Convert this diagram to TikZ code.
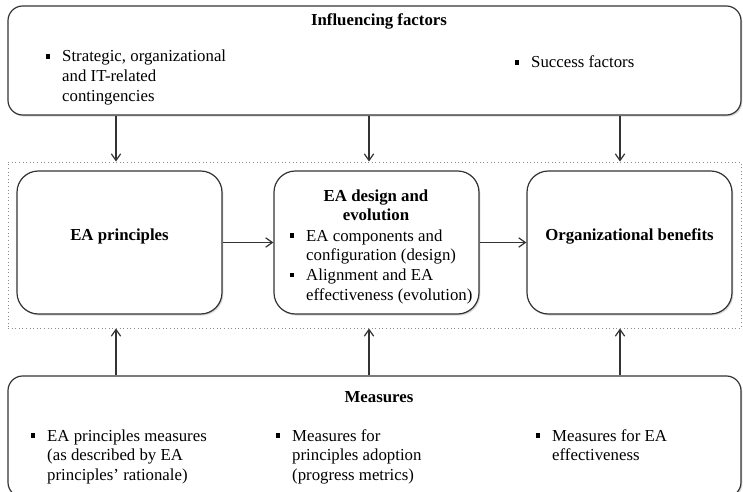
\documentclass[tikz,border=0pt]{standalone}
\usepackage{fontspec}
\setmainfont{Liberation Serif}
\usetikzlibrary{arrows.meta,fit,shadows}
\newcommand{\figfont}{\fontsize{12.6}{14.8}\selectfont}
\newcommand{\sqbul}{\rule[0.2em]{0.25em}{0.25em}}
\newcommand{\blist}[1]{\begin{tabular}[t]{@{}l@{\hspace{0.7em}}l@{}}#1\end{tabular}}
\tikzset{
	box/.style={draw=black!80, line width=0.9pt, rounded corners=11pt, fill=white, inner sep=0pt,
		drop shadow={opacity=0.3, shadow xshift=1pt, shadow yshift=-1.2pt}},
	stage/.style={box, rounded corners=16pt, font=\figfont\bfseries},
	head/.style={anchor=base, inner sep=0pt, font=\figfont\bfseries},
	item/.style={anchor=base west, inner sep=0pt, font=\figfont},
	flow/.style={draw=black!80, line width=0.9pt, -{Straight Barb[length=5pt,width=7pt]}}
}
\begin{document}
\begin{tikzpicture}[x=0.75pt, y=-0.75pt]
	\useasboundingbox (0,0) rectangle (743,492);
	\clip (0,0) rectangle (743,492);
	\node [draw=black!45, dotted, line width=0.7pt, inner sep=0pt, fit={(8,162) (741,328)}] (frame) {};
	\node [box, fit={(8,6) (741,115)}] (infl) {};
	\node [box, fit={(8,376) (741,497)}] (meas) {};
	\node [stage, fit={(17,171) (222,314)}] (princ) {EA principles};
	\node [stage, fit={(274,171) (479,314)}] (design) {};
	\node [stage, fit={(527,171) (732,314)}] (benef) {Organizational benefits};
	\node [head] (infltitle) at (379,26) {Influencing factors};
	\node [item] (contin) at (46,62) {\blist{\sqbul & Strategic, organizational\\ & and IT-related\\ & contingencies}};
	\node [item] (success) at (515,68) {\blist{\sqbul & Success factors}};
	\node [head] (designtitle) at (376,201) {\begin{tabular}[t]{@{}c@{}}EA design and\\ evolution\end{tabular}};
	\node [item] (designlist) at (290,241) {\blist{\sqbul & EA components and\\ & configuration (design)\\ \sqbul & Alignment and EA\\ & effectiveness (evolution)}};
	\node [head] (meastitle) at (379,402) {Measures};
	\node [item] (measprinc) at (31,441) {\blist{\sqbul & EA principles measures\\ & (as described by EA\\ & principles' rationale)}};
	\node [item] (measadopt) at (276,441) {\blist{\sqbul & Measures for\\ & principles adoption\\ & (progress metrics)}};
	\node [item] (measeff) at (536,441) {\blist{\sqbul & Measures for EA\\ & effectiveness}};
	\foreach \x [count=\i] in {116,369,620}
		\coordinate (col\i) at (\x,0);
	\foreach \i in {1,2,3} {
		\draw [flow] (infl.south -| col\i) -- (frame.north -| col\i);
		\draw [flow] (meas.north -| col\i) -- (frame.south -| col\i);
	}
	\draw [flow] (princ) -- (design);
	\draw [flow] (design) -- (benef);
\end{tikzpicture}
\end{document}
